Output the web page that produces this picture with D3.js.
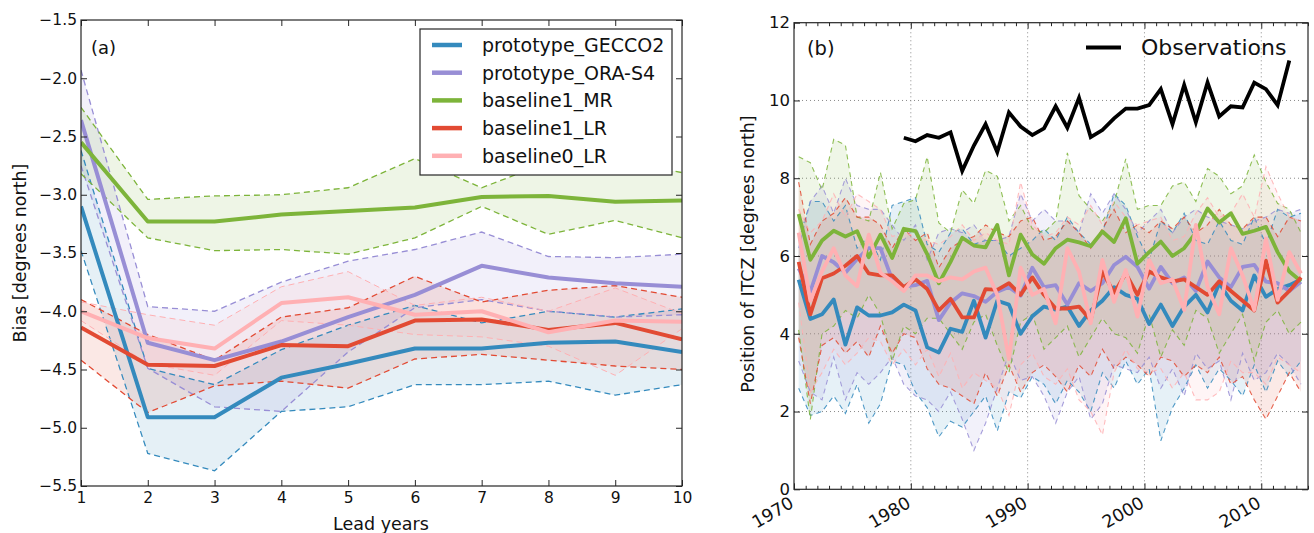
<!DOCTYPE html>
<html>
<head>
<meta charset="utf-8">
<script src="https://cdn.jsdelivr.net/npm/d3@7"></script>
<style>
  body { margin: 0; background: #fff; }
  svg { display: block; font-family: "DejaVu Sans", sans-serif; }
</style>
</head>
<body>
<svg id="fig" width="1314" height="533"></svg>
<script>
// ---------- Panel (a): ITCZ bias against lead year ----------
const leadYears = [1, 2, 3, 4, 5, 6, 7, 8, 9, 10];
const biasTicks = [-5.5, -5.0, -4.5, -4.0, -3.5, -3.0, -2.5, -2.0, -1.5];

const gecco2Mean  = [-3.10, -4.91, -4.91, -4.57, -4.45, -4.32, -4.32, -4.27, -4.26, -4.35];
const gecco2Upper = [-2.62, -4.49, -4.63, -4.33, -4.12, -3.95, -4.10, -4.00, -4.05, -3.98];
const gecco2Lower = [-3.48, -5.22, -5.37, -4.86, -4.82, -4.63, -4.63, -4.60, -4.72, -4.63];

const orasMean  = [-2.36, -4.27, -4.42, -4.26, -4.05, -3.86, -3.61, -3.71, -3.76, -3.79];
const orasUpper = [-1.93, -3.96, -4.00, -3.75, -3.57, -3.47, -3.32, -3.53, -3.54, -3.51];
const orasLower = [-2.75, -4.49, -4.82, -4.86, -4.35, -3.97, -3.90, -4.00, -4.05, -4.03];

const mrMean  = [-2.55, -3.23, -3.23, -3.17, -3.14, -3.11, -3.02, -3.01, -3.06, -3.05];
const mrUpper = [-2.25, -3.04, -3.01, -3.00, -2.94, -2.69, -2.94, -2.72, -2.70, -2.81];
const mrLower = [-2.82, -3.37, -3.48, -3.47, -3.51, -3.37, -3.10, -3.34, -3.22, -3.37];

const lrMean  = [-4.14, -4.46, -4.47, -4.29, -4.30, -4.08, -4.07, -4.16, -4.10, -4.24];
const lrUpper = [-3.90, -4.20, -4.42, -4.05, -3.97, -3.70, -3.92, -3.82, -3.78, -3.88];
const lrLower = [-4.42, -4.87, -4.64, -4.60, -4.66, -4.41, -4.37, -4.42, -4.47, -4.50];

const lr0Mean  = [-4.00, -4.23, -4.32, -3.93, -3.88, -4.03, -4.00, -4.18, -4.08, -4.09];
const lr0Upper = [-3.92, -4.03, -4.12, -3.79, -3.66, -3.95, -3.88, -4.00, -3.80, -4.02];
const lr0Lower = [-4.08, -4.45, -4.55, -4.08, -4.12, -4.20, -4.22, -4.30, -4.55, -4.15];

const seriesNames  = ["prototype_GECCO2", "prototype_ORA-S4", "baseline1_MR", "baseline1_LR", "baseline0_LR"];
const seriesColors = ["#348ABD", "#988ED5", "#7DB43A", "#E24A33", "#FFB0B3"];

// ---------- Panel (b): ITCZ position time series ----------
const modelYears = [1970, 1971, 1972, 1973, 1974, 1975, 1976, 1977, 1978, 1979,
                    1980, 1981, 1982, 1983, 1984, 1985, 1986, 1987, 1988, 1989,
                    1990, 1991, 1992, 1993, 1994, 1995, 1996, 1997, 1998, 1999,
                    2000, 2001, 2002, 2003, 2004, 2005, 2006, 2007, 2008, 2009,
                    2010, 2011, 2012, 2013];
const obsYears = [1979, 1980, 1981, 1982, 1983, 1984, 1985, 1986, 1987, 1988,
                  1989, 1990, 1991, 1992, 1993, 1994, 1995, 1996, 1997, 1998,
                  1999, 2000, 2001, 2002, 2003, 2004, 2005, 2006, 2007, 2008,
                  2009, 2010, 2011, 2012];
const yearTicks = [1970, 1980, 1990, 2000, 2010];
const itczTicks = [0, 2, 4, 6, 8, 10, 12];

const obsItcz = [9.04, 8.95, 9.11, 9.04, 9.18, 8.19, 8.84, 9.39, 8.67, 9.69,
                 9.33, 9.11, 9.28, 9.85, 9.30, 10.07, 9.06, 9.24, 9.54, 9.79,
                 9.79, 9.88, 10.29, 9.39, 10.40, 9.44, 10.46, 9.59, 9.85, 9.82,
                 10.46, 10.29, 9.88, 11.03];

const gecco2Itcz = [5.39, 4.38, 4.50, 4.88, 3.72, 4.68, 4.47, 4.47, 4.55, 4.75,
                    4.60, 3.65, 3.52, 4.13, 4.05, 4.85, 3.90, 4.85, 4.75, 4.00,
                    4.45, 4.70, 4.62, 4.70, 4.20, 4.60, 4.85, 5.20, 5.00, 4.90,
                    4.25, 4.75, 4.20, 4.70, 5.00, 4.55, 5.30, 4.85, 4.60, 5.50,
                    4.95, 5.15, 5.25, 5.40];
const gecco2ItczHi = [6.4, 7.4, 7.4, 6.9, 7.3, 6.2, 6.5, 5.9, 7.3, 7.4,
                      7.5, 6.3, 6.1, 6.6, 6.7, 6.3, 6.4, 6.4, 6.0, 6.2,
                      6.4, 6.7, 6.4, 7.0, 6.6, 6.3, 6.6, 7.6, 7.3, 6.5,
                      5.9, 6.9, 6.6, 7.1, 6.4, 6.3, 6.9, 6.4, 6.3, 7.0,
                      6.3, 7.2, 7.0, 7.1];
const gecco2ItczLo = [2.6, 1.9, 2.0, 2.4, 1.95, 2.7, 1.7, 2.2, 3.3, 3.2,
                      2.5, 2.1, 1.35, 1.75, 1.6, 2.0, 2.4, 1.5, 2.5, 2.35,
                      2.9, 2.7, 2.2, 2.8, 2.5, 2.0, 3.0, 2.6, 3.3, 2.7,
                      3.1, 1.25, 2.1, 2.6, 3.2, 2.6, 3.1, 2.8, 2.4, 3.2,
                      2.5, 3.3, 2.9, 3.3];

const orasItcz = [5.68, 5.08, 6.00, 5.84, 5.57, 5.92, 6.20, 6.20, 5.40, 5.21,
                  5.25, 5.36, 4.35, 4.80, 5.04, 4.97, 4.82, 5.08, 5.20, 4.98,
                  5.70, 5.20, 5.25, 4.75, 5.30, 5.10, 5.30, 5.77, 5.98, 5.72,
                  5.16, 5.72, 5.30, 5.45, 5.10, 5.86, 5.45, 5.20, 5.72, 5.77,
                  5.34, 5.30, 5.10, 5.34];
const orasItczHi = [6.2, 7.4, 7.8, 7.1, 8.0, 7.3, 7.2, 7.2, 6.8, 6.4,
                    6.8, 5.9, 6.6, 6.7, 6.6, 6.8, 6.4, 6.4, 6.5, 7.6,
                    6.9, 7.2, 6.9, 6.9, 6.6, 7.6, 7.1, 7.6, 7.2, 6.6,
                    6.9, 7.2, 6.6, 7.0, 7.2, 7.0, 6.9, 6.8, 6.7, 6.9,
                    7.0, 7.2, 7.1, 7.2];
const orasItczLo = [3.3, 2.5, 2.3, 3.4, 2.3, 3.0, 2.7, 3.0, 3.4, 2.7,
                    2.4, 2.3, 2.0, 2.5, 1.8, 1.0, 1.7, 2.6, 3.5, 2.8,
                    2.9, 2.4, 1.7, 2.5, 2.9, 1.8, 2.2, 3.2, 3.1, 3.0,
                    3.4, 2.6, 3.1, 2.4, 3.5, 3.1, 3.3, 2.3, 3.5, 2.8,
                    3.0, 3.5, 3.2, 2.7];

const mrItcz = [7.08, 5.90, 6.40, 6.65, 6.50, 6.64, 5.97, 6.55, 5.95, 6.70,
                6.64, 6.05, 5.30, 5.85, 6.47, 6.27, 6.22, 6.80, 5.50, 6.55,
                6.04, 5.80, 6.20, 6.42, 6.35, 6.25, 6.63, 6.36, 6.97, 5.80,
                6.10, 6.37, 6.00, 6.20, 6.60, 7.22, 6.86, 7.10, 6.57, 6.65,
                6.75, 6.10, 5.60, 5.35];
const mrItczHi = [8.55, 8.4, 7.7, 9.0, 8.85, 7.0, 6.9, 8.15, 6.7, 7.35,
                  7.45, 8.55, 6.85, 6.6, 7.7, 7.35, 8.2, 8.05, 6.9, 7.3,
                  6.7, 6.6, 6.9, 8.65, 7.55, 7.2, 6.9, 7.35, 8.5, 7.2,
                  7.3, 7.3, 7.8, 7.9, 7.4, 8.25, 8.05, 7.6, 7.8, 8.6,
                  7.9, 7.35, 7.2, 6.6];
const mrItczLo = [4.1, 1.8, 4.0, 4.2, 4.6, 4.4, 5.0, 4.5, 3.3, 4.2,
                  4.0, 4.4, 4.4, 4.0, 3.6, 4.3, 4.5, 3.7, 3.0, 4.3,
                  4.5, 3.6, 3.9, 4.2, 3.4, 3.9, 4.4, 4.0, 3.9, 3.5,
                  4.5, 3.4, 4.1, 3.7, 4.6, 4.4, 3.5, 4.0, 4.5, 3.3,
                  4.3, 4.6, 4.0, 4.3];

const lrItcz = [5.85, 4.50, 5.43, 5.55, 5.75, 6.00, 5.55, 5.50, 5.50, 5.20,
                5.40, 5.15, 4.60, 4.90, 4.42, 4.42, 5.15, 5.13, 5.30, 5.00,
                5.45, 5.00, 4.65, 4.65, 4.70, 4.35, 5.60, 5.05, 5.55, 5.00,
                5.60, 5.45, 5.35, 5.40, 5.20, 5.00, 5.35, 5.10, 4.85, 4.60,
                5.88, 4.80, 5.10, 5.45];
const lrItczHi = [7.9, 6.3, 6.9, 7.1, 7.5, 7.0, 7.0, 6.8, 6.2, 6.7,
                  6.4, 6.6, 5.7, 6.2, 6.4, 6.5, 6.8, 6.6, 6.5, 6.9,
                  7.0, 6.4, 6.5, 6.9, 6.6, 6.2, 6.7, 7.2, 6.6, 6.8,
                  6.6, 6.9, 6.7, 7.0, 6.6, 6.8, 7.2, 6.8, 6.7, 7.0,
                  7.0, 6.5, 7.0, 6.9];
const lrItczLo = [3.9, 2.2, 3.7, 3.9, 3.5, 3.8, 3.4, 4.2, 3.5, 4.0,
                  3.9, 3.1, 2.7, 2.6, 2.4, 2.2, 3.0, 2.4, 3.2, 2.5,
                  3.0, 3.2, 2.9, 2.5, 3.2, 2.9, 3.6, 3.1, 3.4, 3.2,
                  2.9, 3.4, 3.3, 2.9, 3.2, 3.0, 3.4, 2.7, 2.9, 2.3,
                  1.8, 2.4, 3.0, 2.5];

const lr0Itcz = [6.60, 4.85, 5.60, 6.20, 5.50, 5.22, 6.55, 5.57, 5.35, 5.10,
                 5.50, 5.50, 5.35, 5.45, 5.40, 5.60, 5.70, 5.00, 3.35, 5.70,
                 5.00, 5.15, 4.27, 6.20, 5.60, 4.27, 5.90, 4.82, 5.64, 4.44,
                 5.90, 5.30, 5.40, 4.61, 6.80, 5.20, 4.50, 6.20, 5.50, 4.61,
                 6.45, 4.87, 6.10, 5.55];
const lr0ItczHi = [7.2, 6.6, 6.9, 7.6, 7.0, 7.6, 7.4, 7.2, 6.5, 6.6,
                   6.5, 6.4, 6.3, 6.5, 6.8, 6.4, 6.6, 6.4, 6.3, 7.9,
                   6.8, 6.5, 6.6, 7.0, 6.8, 7.3, 6.8, 7.4, 7.0, 6.8,
                   6.9, 7.0, 6.4, 6.5, 7.1, 7.5, 7.0, 7.1, 7.6, 7.0,
                   8.3, 7.6, 7.0, 6.9];
const lr0ItczLo = [4.8, 2.5, 3.0, 3.6, 3.2, 3.5, 3.9, 3.8, 3.2, 3.6,
                   3.2, 3.6, 2.9, 3.5, 2.6, 3.0, 2.8, 2.6, 1.9, 3.2,
                   3.5, 2.9, 2.7, 3.1, 2.3, 2.0, 1.4, 3.0, 3.6, 3.1,
                   3.0, 3.1, 2.6, 3.0, 2.3, 2.3, 2.5, 3.3, 3.0, 3.0,
                   2.7, 3.4, 3.2, 3.0];

// Series tables built from the arrays above
const biasSeries = [
  { mean: gecco2Mean, hi: gecco2Upper, lo: gecco2Lower },
  { mean: orasMean,   hi: orasUpper,   lo: orasLower },
  { mean: mrMean,     hi: mrUpper,     lo: mrLower },
  { mean: lrMean,     hi: lrUpper,     lo: lrLower },
  { mean: lr0Mean,    hi: lr0Upper,    lo: lr0Lower }
].map((s, k) => ({ ...s, name: seriesNames[k], color: seriesColors[k] }));

const itczSeries = [
  { mean: gecco2Itcz, hi: gecco2ItczHi, lo: gecco2ItczLo },
  { mean: orasItcz,   hi: orasItczHi,   lo: orasItczLo },
  { mean: mrItcz,     hi: mrItczHi,     lo: mrItczLo },
  { mean: lrItcz,     hi: lrItczHi,     lo: lrItczLo },
  { mean: lr0Itcz,    hi: lr0ItczHi,    lo: lr0ItczLo }
].map((s, k) => ({ ...s, name: seriesNames[k], color: seriesColors[k] }));

const svg = d3.select("#fig");
const SPINE = "#262626";

// Annual values are plotted a little after the start of each year
const YEAR_SHIFT = 0.4;

// ---------- helpers ----------
function frame(g, x0, y0, x1, y1) {
  g.append("rect")
    .attr("x", x0).attr("y", y0)
    .attr("width", x1 - x0).attr("height", y1 - y0)
    .attr("fill", "none").attr("stroke", SPINE).attr("stroke-width", 1.2);
}

function styleAxis(sel, fontSize) {
  sel.select(".domain").remove();
  sel.selectAll(".tick line").attr("stroke", SPINE).attr("stroke-width", 1);
  sel.selectAll(".tick text").attr("fill", "#111").style("font-size", fontSize + "px")
    .style("font-family", "DejaVu Sans, sans-serif");
}

// ================= Panel (a) =================
const xA = d3.scaleLinear().domain([1, 10]).range([81, 682]);
const yA = d3.scaleLinear().domain([-5.5, -1.5]).range([486, 20]);
const gA = svg.append("g");

gA.append("clipPath").attr("id", "clipA").append("rect")
  .attr("x", 81).attr("y", 20).attr("width", 601).attr("height", 466);
const plotA = gA.append("g").attr("clip-path", "url(#clipA)");

const areaA = d3.area()
  .x((d, i) => xA(leadYears[i]))
  .y0(d => yA(d[0])).y1(d => yA(d[1]));
const lineA = d3.line().x((d, i) => xA(leadYears[i])).y(d => yA(d));

biasSeries.forEach(s => {
  plotA.append("path")
    .datum(s.lo.map((v, i) => [v, s.hi[i]]))
    .attr("d", areaA)
    .attr("fill", s.color).attr("fill-opacity", 0.13);
});
biasSeries.forEach(s => {
  [s.hi, s.lo].forEach(arr => {
    plotA.append("path").datum(arr).attr("d", lineA)
      .attr("fill", "none").attr("stroke", s.color)
      .attr("stroke-width", s.color === "#FFB0B3" ? 1.0 : 1.3)
      .attr("stroke-dasharray", "6,4");
  });
});
biasSeries.forEach(s => {
  plotA.append("path").datum(s.mean).attr("d", lineA)
    .attr("fill", "none").attr("stroke", s.color)
    .attr("stroke-width", 4).attr("stroke-linejoin", "round");
});

// Axes (ticks point inwards on all four sides)
gA.append("g").attr("transform", "translate(0,486)")
  .call(d3.axisBottom(xA).tickValues(leadYears).tickFormat(d3.format("d"))
    .tickSizeInner(-6).tickSizeOuter(0).tickPadding(6))
  .call(s => styleAxis(s, 15.5));
gA.append("g").attr("transform", "translate(0,20)")
  .call(d3.axisTop(xA).tickValues(leadYears).tickFormat("")
    .tickSizeInner(-6).tickSizeOuter(0))
  .call(s => styleAxis(s, 15.5));
gA.append("g").attr("transform", "translate(81,0)")
  .call(d3.axisLeft(yA).tickValues(biasTicks).tickFormat(d3.format(".1f"))
    .tickSizeInner(-6).tickSizeOuter(0).tickPadding(4))
  .call(s => styleAxis(s, 15.5));
gA.append("g").attr("transform", "translate(682,0)")
  .call(d3.axisRight(yA).tickValues(biasTicks).tickFormat("")
    .tickSizeInner(-6).tickSizeOuter(0))
  .call(s => styleAxis(s, 15.5));
frame(gA, 81, 20, 682, 486);

gA.append("text").attr("x", 91).attr("y", 54)
  .style("font-size", "18px").attr("fill", "#111").text("(a)");
gA.append("text").attr("x", 381).attr("y", 530).attr("text-anchor", "middle")
  .style("font-size", "17.5px").attr("fill", "#111").text("Lead years");
gA.append("text").attr("transform", "translate(26,253) rotate(-90)")
  .attr("text-anchor", "middle").style("font-size", "17.5px").attr("fill", "#111")
  .text("Bias [degrees north]");

// Legend
const legA = gA.append("g");
legA.append("rect").attr("x", 420).attr("y", 29).attr("width", 252).attr("height", 146)
  .attr("fill", "#fff").attr("stroke", SPINE).attr("stroke-width", 1.2);
biasSeries.forEach((s, k) => {
  const yy = 45 + k * 27.7;
  legA.append("line").attr("x1", 432).attr("x2", 462).attr("y1", yy).attr("y2", yy)
    .attr("stroke", s.color).attr("stroke-width", 4.5);
  legA.append("text").attr("x", 482).attr("y", yy).attr("dy", "0.36em")
    .style("font-size", "19px").attr("fill", "#111").text(s.name);
});

// ================= Panel (b) =================
const xB = d3.scaleLinear().domain([1970, 2014]).range([794, 1308]);
const yB = d3.scaleLinear().domain([0, 12]).range([489.3, 22.7]);
const gB = svg.append("g");

gB.append("clipPath").attr("id", "clipB").append("rect")
  .attr("x", 794).attr("y", 22.7).attr("width", 514).attr("height", 466.6);

// dotted grid
const gridB = gB.append("g");
yearTicks.slice(1).forEach(t => {
  gridB.append("line").attr("x1", xB(t)).attr("x2", xB(t)).attr("y1", yB(0)).attr("y2", yB(12))
    .attr("stroke", "#8a8a8a").attr("stroke-width", 1).attr("stroke-dasharray", "1,3");
});
itczTicks.slice(1, -1).forEach(t => {
  gridB.append("line").attr("x1", xB(1970)).attr("x2", xB(2014)).attr("y1", yB(t)).attr("y2", yB(t))
    .attr("stroke", "#8a8a8a").attr("stroke-width", 1).attr("stroke-dasharray", "1,3");
});

const plotB = gB.append("g").attr("clip-path", "url(#clipB)");
const areaB = d3.area()
  .x((d, i) => xB(modelYears[i] + YEAR_SHIFT))
  .y0(d => yB(d[0])).y1(d => yB(d[1]));
const lineB = d3.line().x((d, i) => xB(modelYears[i] + YEAR_SHIFT)).y(d => yB(d));

itczSeries.forEach(s => {
  plotB.append("path")
    .datum(s.lo.map((v, i) => [v, s.hi[i]]))
    .attr("d", areaB)
    .attr("fill", s.color).attr("fill-opacity", 0.12);
});
itczSeries.forEach(s => {
  [s.hi, s.lo].forEach(arr => {
    plotB.append("path").datum(arr).attr("d", lineB)
      .attr("fill", "none").attr("stroke", s.color).attr("stroke-opacity", 0.85)
      .attr("stroke-width", 1.1).attr("stroke-dasharray", "5,4");
  });
});
itczSeries.forEach(s => {
  plotB.append("path").datum(s.mean).attr("d", lineB)
    .attr("fill", "none").attr("stroke", s.color)
    .attr("stroke-width", 3.8).attr("stroke-linejoin", "round");
});

const obsLine = d3.line().x((d, i) => xB(obsYears[i] + YEAR_SHIFT)).y(d => yB(d));
plotB.append("path").datum(obsItcz).attr("d", obsLine)
  .attr("fill", "none").attr("stroke", "#000").attr("stroke-width", 3.8)
  .attr("stroke-linejoin", "miter");

// Axes for panel (b)
const axB = gB.append("g").attr("transform", `translate(0,${yB(0)})`)
  .call(d3.axisBottom(xB).tickValues(yearTicks).tickFormat(d3.format("d"))
    .tickSizeInner(-6).tickSizeOuter(0).tickPadding(0))
  .call(s => styleAxis(s, 17.5));
axB.selectAll(".tick text")
  .attr("y", 0).attr("dy", "0.74em")
  .attr("transform", "translate(-6,6) rotate(-30)")
  .style("text-anchor", "end");
gB.append("g").attr("transform", `translate(0,${yB(12)})`)
  .call(d3.axisTop(xB).tickValues(yearTicks).tickFormat("")
    .tickSizeInner(-6).tickSizeOuter(0))
  .call(s => styleAxis(s, 16));

// yearly minor ticks top and bottom
const minorYears = modelYears.concat([2014]).filter(y => !yearTicks.includes(y));
gB.append("g").attr("transform", `translate(0,${yB(0)})`)
  .call(d3.axisBottom(xB).tickValues(minorYears).tickFormat("")
    .tickSizeInner(-3.5).tickSizeOuter(0))
  .call(s => styleAxis(s, 16));
gB.append("g").attr("transform", `translate(0,${yB(12)})`)
  .call(d3.axisTop(xB).tickValues(minorYears).tickFormat("")
    .tickSizeInner(-3.5).tickSizeOuter(0))
  .call(s => styleAxis(s, 16));

gB.append("g").attr("transform", "translate(794,0)")
  .call(d3.axisLeft(yB).tickValues(itczTicks).tickFormat(d3.format("d"))
    .tickSizeInner(-6).tickSizeOuter(0).tickPadding(4))
  .call(s => styleAxis(s, 16.5));
gB.append("g").attr("transform", "translate(1308,0)")
  .call(d3.axisRight(yB).tickValues(itczTicks).tickFormat("")
    .tickSizeInner(-6).tickSizeOuter(0))
  .call(s => styleAxis(s, 16));
frame(gB, 794, 22.7, 1308, 489.3);

gB.append("text").attr("x", 807).attr("y", 55)
  .style("font-size", "19.5px").attr("fill", "#111").text("(b)");
gB.append("text").attr("transform", "translate(754,254) rotate(-90)")
  .attr("text-anchor", "middle").style("font-size", "17.5px").attr("fill", "#111")
  .text("Position of ITCZ [degrees north]");

// Observation legend (no frame)
gB.append("line").attr("x1", 1086).attr("x2", 1121).attr("y1", 47.5).attr("y2", 47.5)
  .attr("stroke", "#000").attr("stroke-width", 4);
gB.append("text").attr("x", 1141).attr("y", 47.5).attr("dy", "0.36em")
  .style("font-size", "22px").attr("fill", "#111").text("Observations");
</script>
</body>
</html>
